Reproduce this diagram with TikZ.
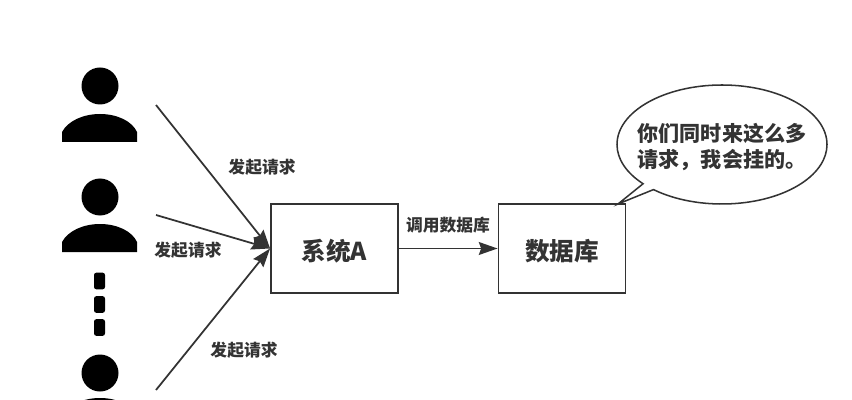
\documentclass[tikz,border=0pt]{standalone}
\usepackage{fontspec}
\setmainfont{Noto Sans CJK SC}
\usepackage{xcolor}
\usetikzlibrary{arrows.meta,shapes.callouts}
\definecolor{inkdark}{HTML}{333333}
\tikzset{
	personfill/.style={fill=black,draw=none},
	dotbox/.style={fill=black,draw=none,rounded corners=2pt},
	sysbox/.style={draw=inkdark,line width=1.6pt,minimum width=3.81cm,minimum height=2.67cm,font=\fontsize{21}{25}\selectfont\bfseries,text=inkdark,inner sep=0pt,text height=21pt,text depth=0pt},
	reqline/.style={draw=inkdark,line width=1.5pt,-{Stealth[length=16pt,width=11pt,inset=2pt]}},
	reqlabel/.style={font=\fontsize{14.3}{17}\selectfont\bfseries,text=inkdark,inner sep=0pt}
}
\begin{document}
\begin{tikzpicture}[x=0.03cm,y=-0.03cm]
	\useasboundingbox (0,0) rectangle (852,400);
	\clip (0,0) rectangle (852,400);
	
	% users
	\foreach \i/\y/\b in {1/86/114,2/197/224,3/373/398} {
		\node[personfill,circle,minimum size=1.11cm,inner sep=0pt] (head\i) at (100,\y) {};
		\fill (62,\b+28) -- (62,\b+18) .. controls (68,\b+7) and (83,\b) .. (100,\b) .. controls (117,\b) and (132,\b+7) .. (137,\b+18) -- (137,\b+28) -- cycle;
	}
	
	% dots between users
	\foreach \i/\y in {1/281,2/304.5,3/327.5} {
		\node[dotbox,minimum width=0.33cm,minimum height=0.5cm,inner sep=0pt] (dot\i) at (99.5,\y) {};
	}
	
	% boxes
	\node[sysbox] (sysA) at (334.5,248.5) {系统A};
	\node[sysbox] (dbase) at (562,248.5) {数据库};
	
	% speech bubble
	\node[ellipse callout,draw=inkdark,line width=1.3pt,fill=white,minimum width=6.3cm,minimum height=3.57cm,inner sep=0pt,
		callout absolute pointer={(618,204)},callout pointer arc=8] (talk) at (722,144.5) {};
	\node[font=\fontsize{18}{23}\selectfont\bfseries,text=inkdark,align=left,inner sep=0pt] (talktext) at (722,147) {你们同时来这么多\\请求，我会挂的。};
	
	% free ends of the request arrows
	\coordinate (from1) at (156,105);
	\coordinate (from2) at (156,215);
	\coordinate (from3) at (156,390);
	
	\foreach \i in {1,2,3} { \draw[reqline] (from\i) -- (sysA.west); }
	\draw[reqline] (sysA.east) -- (dbase.west);
	
	% labels
	\node[reqlabel] (req1) at (262,167.5) {发起请求};
	\node[reqlabel] (req2) at (188,250) {发起请求};
	\node[reqlabel] (req3) at (244,350) {发起请求};
	\node[reqlabel] (calldb) at (448,225) {调用数据库};
\end{tikzpicture}
\end{document}
